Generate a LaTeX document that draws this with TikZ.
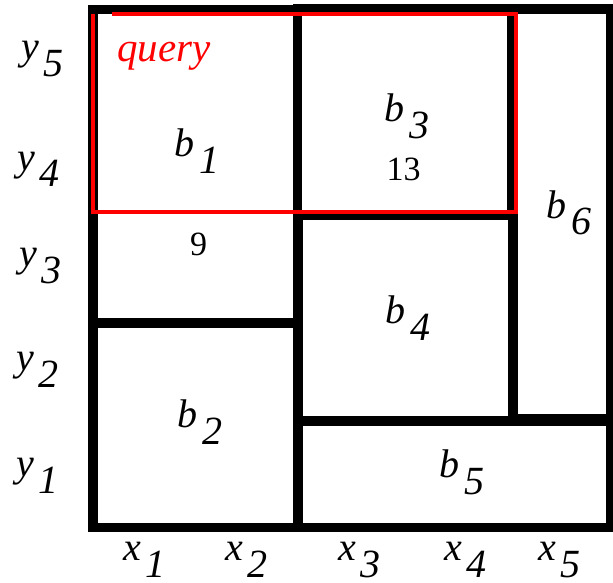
\documentclass[tikz,border=0pt]{standalone}
\usepackage{fontspec}
\setmainfont{Liberation Serif}
\newcommand{\labfont}{\fontsize{40}{48}\selectfont}
\newcommand{\qfont}{\fontsize{41}{48}\selectfont}
\newcommand{\numfont}{\fontsize{34}{40}\selectfont}
\newcommand{\lbl}[2]{\textit{#1}\kern5pt\raisebox{-17pt}{\textit{#2}}}
\tikzset{
  cell/.style={draw=black, line width=9.5pt, line join=miter},
  qline/.style={draw=red, line width=3.5pt},
  lab/.style={anchor=base west, inner sep=0pt, font=\labfont},
  num/.style={anchor=base, inner sep=0pt, font=\numfont},
  qlab/.style={anchor=base west, inner sep=0pt, font=\qfont, text=red},
}
\begin{document}
\begin{tikzpicture}[x=1pt,y=-1pt]
\useasboundingbox (0,0) rectangle (613,583);
% cells
\draw[cell] (93,9.5) rectangle (297.5,323);
\draw[cell] (93,323) rectangle (298,527.5);
\draw[cell] (297.5,9) rectangle (512,215);
\draw[cell] (298,215) rectangle (513,421);
\draw[cell] (513,9) rectangle (611,419);
\draw[cell] (298,421) rectangle (611,527.5);
% query window
\draw[qline] (112,14) -- (516,14) -- (516,212) -- (93,212) -- (93,14);
\node[qlab] (q) at (117,62) {\textit{query}};
% box labels
\node[lab] (b1) at (174,157) {\lbl{b}{1}};
\node[lab] (b2) at (177,427) {\lbl{b}{2}};
\node[lab] (b3) at (384,122) {\lbl{b}{3}};
\node[lab] (b4) at (385,323) {\lbl{b}{4}};
\node[lab] (b5) at (439,477) {\lbl{b}{5}};
\node[lab] (b6) at (546,218) {\lbl{b}{6}};
% counts
\node[num] (n9) at (198.5,255) {9};
\node[num] (n13) at (403.5,180) {13};
% y axis labels
\node[lab] (y5) at (21,60) {\lbl{y}{5}};
\node[lab] (y4) at (17,170) {\lbl{y}{4}};
\node[lab] (y3) at (19,266) {\lbl{y}{3}};
\node[lab] (y2) at (16,370) {\lbl{y}{2}};
\node[lab] (y1) at (16,476) {\lbl{y}{1}};
% x axis labels
\node[lab] (x1) at (123,560) {\lbl{x}{1}};
\node[lab] (x2) at (225,560) {\lbl{x}{2}};
\node[lab] (x3) at (338,560) {\lbl{x}{3}};
\node[lab] (x4) at (444,560) {\lbl{x}{4}};
\node[lab] (x5) at (538,560) {\lbl{x}{5}};
\end{tikzpicture}
\end{document}
